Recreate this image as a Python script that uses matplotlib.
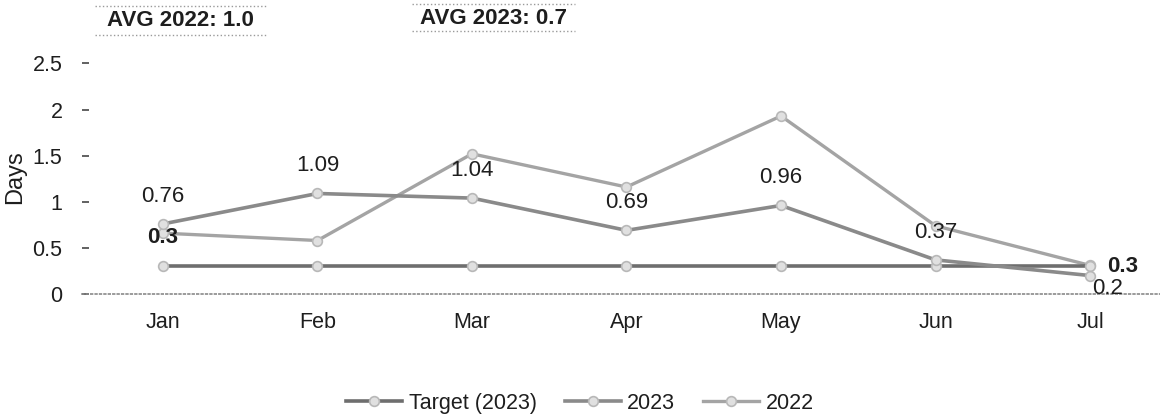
import matplotlib
matplotlib.use("Agg")
import matplotlib.pyplot as plt
from matplotlib.lines import Line2D

plt.rcParams["font.family"] = ["Liberation Sans", "DejaVu Sans"]

# Monthly resolution time (days)
months = ["Jan", "Feb", "Mar", "Apr", "May", "Jun", "Jul"]
target_2023 = [0.3, 0.3, 0.3, 0.3, 0.3, 0.3, 0.3]
days_2023 = [0.76, 1.09, 1.04, 0.69, 0.96, 0.37, 0.2]
days_2022 = [0.66, 0.58, 1.52, 1.16, 1.93, 0.74, 0.31]
y_ticks = [0, 0.5, 1, 1.5, 2, 2.5]
y_tick_labels = ["0", "0.5", "1", "1.5", "2", "2.5"]

avg_2022 = sum(days_2022) / len(days_2022)
avg_2023 = sum(days_2023) / len(days_2023)

W, H = 1160, 419
fig = plt.figure(figsize=(W / 100, H / 100), dpi=100)
ax = fig.add_axes([82 / W, 1 - 294 / H, 1 - 82 / W, (294 - 45) / H])

x = list(range(len(months)))
text_color = "#1e1e1e"
marker_kw = dict(marker="o", ms=7, mfc="#e0e0e0", mec="#b8b8b8", mew=1.2)

ax.plot(x, target_2023, color="#6e6e6e", lw=2.6, label="Target (2023)", zorder=3, **marker_kw)
ax.plot(x, days_2023, color="#8a8a8a", lw=2.6, label="2023", zorder=4, **marker_kw)
ax.plot(x, days_2022, color="#a4a4a4", lw=2.4, label="2022", zorder=2, **marker_kw)

ax.set_xlim(-0.524, 6.453)
ax.set_ylim(0, 2.7)
ax.set_xticks(x)
ax.set_xticklabels(months)
ax.set_yticks(y_ticks)
ax.set_yticklabels(y_tick_labels)

for side in ("top", "right", "left"):
    ax.spines[side].set_visible(False)
ax.spines["bottom"].set_color("#8a8a8a")
ax.spines["bottom"].set_linestyle(":")
ax.spines["bottom"].set_linewidth(1.2)

ax.tick_params(axis="x", length=0, pad=13, labelsize=15.5, labelcolor=text_color)
ax.tick_params(axis="y", direction="in", length=5, width=1.3, color="#555555",
               pad=14, labelsize=15.5, labelcolor=text_color)
ax.set_ylabel("Days", fontsize=17, color=text_color)
ax.yaxis.set_label_coords(-0.052, 0.47)

# 2023 value labels
for i, v in enumerate(days_2023[:-1]):
    ax.annotate(f"{v:g}", (i, v), xytext=(0, 20), textcoords="offset points",
                ha="center", va="center", fontsize=16, color=text_color, zorder=6)
ax.annotate(f"{days_2023[-1]:g}", (x[-1], days_2023[-1]), xytext=(1.5, -9),
            textcoords="offset points", ha="left", va="center",
            fontsize=16, color=text_color, zorder=6)

# Target labels at the start and end
ax.annotate(f"{target_2023[0]:g}", (x[0], target_2023[0]), xytext=(0, 21),
            textcoords="offset points", ha="center", va="center",
            fontsize=16, fontweight="bold", color=text_color, zorder=6)
ax.annotate(f"{target_2023[-1]:g}", (x[-1], target_2023[-1]), xytext=(12, 0),
            textcoords="offset points", ha="left", va="center",
            fontsize=16, fontweight="bold", color=text_color, zorder=6)

# Average boxes above the plot
def avg_box(cx, cy, x0, x1, y_top, y_bot, label):
    fig.text(cx / W, 1 - cy / H, label, ha="center", va="center",
             fontsize=16, fontweight="bold", color=text_color)
    for yy in (y_top, y_bot):
        fig.add_artist(Line2D([x0 / W, x1 / W], [1 - yy / H, 1 - yy / H],
                              color="#9a9a9a", lw=1.0, ls=":"))

avg_box(180, 21, 95, 267, 6, 35, f"AVG 2022: {avg_2022:.1f}")
avg_box(493, 18, 412, 575, 4, 31, f"AVG 2023: {avg_2023:.1f}")

fig.legend(loc="center", bbox_to_anchor=(0.5, 1 - 403 / H), ncol=3, frameon=False,
           fontsize=15.5, handlelength=2.6, handletextpad=0.3, columnspacing=1.3,
           labelcolor=text_color)

fig.savefig("out.png", dpi=100, facecolor="white")
